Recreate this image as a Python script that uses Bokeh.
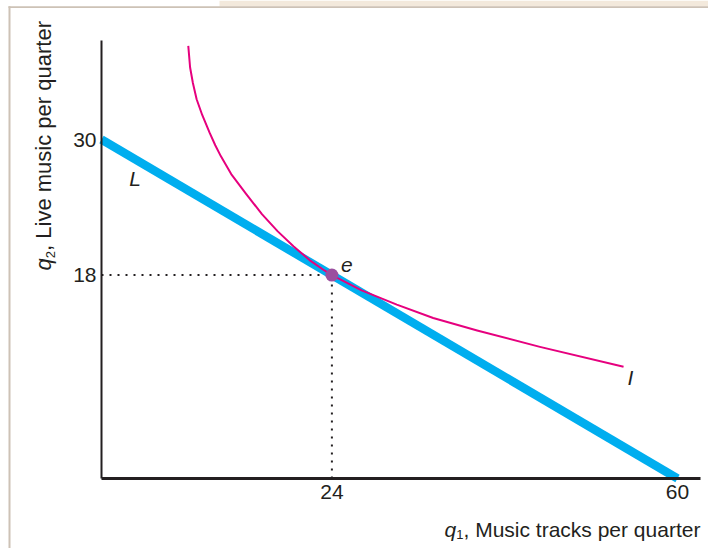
import math
from bokeh.plotting import figure
from bokeh.models import Range1d, FixedTicker, Label, BoxAnnotation, LinearAxis
from bokeh.embed import file_html
from bokeh.resources import INLINE

# ---- data ----
budget_q1 = [0, 60]
budget_q2 = [30, 0]
opt_q1 = [24]
opt_q2 = [18]
indiff_q1 = [9.04, 9.23, 9.52, 9.91, 10.49, 11.27, 11.85, 12.44, 13.51, 15.06, 16.71, 18.36,
             20.02, 21.67, 23.22, 24.0, 27.10, 30.76, 34.55, 39.13, 45.67, 54.38]
indiff_q2 = [38.28, 36.37, 35.00, 33.56, 32.17, 30.58, 29.49, 28.51, 26.94, 25.19, 23.40, 21.87,
             20.54, 19.33, 18.41, 18.0, 16.65, 15.39, 14.20, 13.10, 11.65, 9.89]
x_ticks = [24, 60]
y_ticks = [18, 30]

FONT = "Liberation Sans"
INK = "#231f20"
BLUE = "#00aeef"
MAGENTA = "#e6007e"
PURPLE = "#9b4f9f"
RULE = "#cdc2b6"
TAN = "#f3e9dc"

W, H = 708, 548
SX, SY = 9.6, 11.3            # pixels per unit
X0, Y0 = 101, 478             # page position of the origin

p = figure(width=W, height=H, output_backend="svg", toolbar_location=None,
           x_axis_location=None, y_axis_location=None,
           x_range=Range1d(-X0 / SX, (W - X0) / SX),
           y_range=Range1d(-(H - Y0) / SY, Y0 / SY),
           min_border=0)
p.background_fill_color = "white"
p.border_fill_color = "white"
p.outline_line_color = None
p.grid.visible = False

xaxis = LinearAxis(fixed_location=0, bounds=(0, (700 - X0) / SX))
yaxis = LinearAxis(fixed_location=0, bounds=(0, (Y0 - 40) / SY))
p.add_layout(xaxis, "below")
p.add_layout(yaxis, "left")
for ax, ticks, lw in ((xaxis, x_ticks, 3), (yaxis, y_ticks, 2)):
    ax.ticker = FixedTicker(ticks=ticks)
    ax.axis_line_color = INK
    ax.axis_line_width = lw
    ax.major_tick_line_color = None
    ax.minor_tick_line_color = None
    ax.major_tick_out = 0
    ax.major_tick_in = 0
    ax.major_label_text_font = FONT
    ax.major_label_text_font_size = "21px"
    ax.major_label_text_color = INK
xaxis.major_label_standoff = 6
yaxis.major_label_standoff = 5

# dotted guides to the optimum
p.line([0, opt_q1[0]], [opt_q2[0], opt_q2[0]], line_color=INK, line_width=2, line_dash="2 6")
p.line([opt_q1[0], opt_q1[0]], [0, opt_q2[0]], line_color=INK, line_width=2, line_dash="2 6")

# budget line L (clipped at the vertical axis)
p.line(budget_q1, budget_q2, line_color=BLUE, line_width=8.5)
# indifference curve I
p.line(indiff_q1, indiff_q2, line_color=MAGENTA, line_width=2, line_join="round")
# optimum e
p.scatter(opt_q1, opt_q2, size=13, fill_color=PURPLE, line_color=None)

def dlab(text, x, y, xo, yo):
    p.add_layout(Label(x=x, y=y, x_offset=xo, y_offset=yo, text=text, text_font=FONT,
                       text_font_size="21px", text_font_style="italic", text_color=INK,
                       text_baseline="alphabetic", text_align="left"))

dlab("L", 2.9, 30 - 2.9 / 2, 0, -23)
dlab("e", opt_q1[0], opt_q2[0], 9, 10)
dlab("I", indiff_q1[-1], indiff_q2[-1], 4, -11)

def slab(text, px, py, size, style="normal", angle=0.0):
    p.add_layout(Label(x=px, y=H - py, x_units="screen", y_units="screen", text=text,
                       text_font=FONT, text_font_size=f"{size}px", text_font_style=style,
                       text_color=INK, angle=angle, text_baseline="alphabetic", text_align="left"))

# x axis title
slab("q", 444, 529, 21, "italic")
slab("1", 455.7, 534, 13)
slab(", Music tracks per quarter", 463, 529, 21)
# y axis title (rotated)
slab("q", 43, 270, 22, "italic", math.pi / 2)
slab("2", 49.5, 257.8, 13, "normal", math.pi / 2)
slab(", Live music per quarter", 43, 250.4, 22, "normal", math.pi / 2)

# panel frame decoration
def sbox(l, r, top_py, bot_py, color):
    p.add_layout(BoxAnnotation(left=l, right=r, top=H - top_py, bottom=H - bot_py,
                               left_units="screen", right_units="screen",
                               top_units="screen", bottom_units="screen",
                               fill_color=color, fill_alpha=1, line_color=None))

sbox(219, W, 0, 6, TAN)
sbox(8, W, 5.7, 7.5, RULE)
sbox(8, 10, 5.7, H, RULE)

open("out.html", "w").write(file_html(p, INLINE))
